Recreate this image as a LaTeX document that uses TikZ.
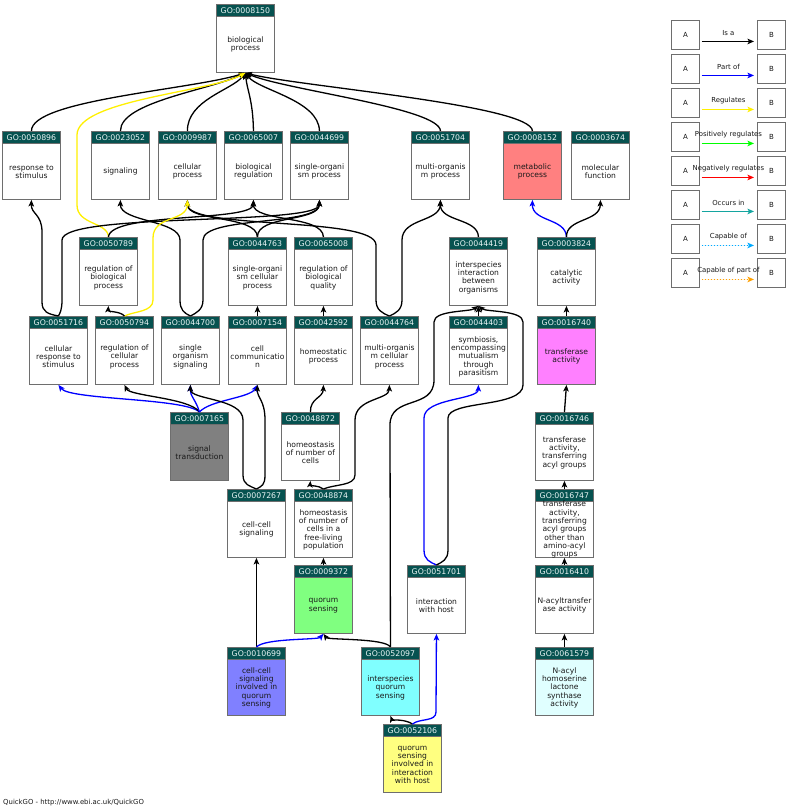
\documentclass[tikz,border=0pt]{standalone}
\usepackage{fontspec}
\setmainfont{DejaVu Sans}
\usetikzlibrary{arrows.meta,calc}
\definecolor{hdr}{RGB}{6,82,80}
\definecolor{hdrtxt}{RGB}{232,244,244}
\definecolor{bordc}{RGB}{110,110,110}
\definecolor{txtc}{RGB}{25,25,25}
\definecolor{cmeta}{RGB}{255,128,128}
\definecolor{ctrans}{RGB}{255,128,255}
\definecolor{csig}{RGB}{128,128,128}
\definecolor{cqs}{RGB}{128,255,128}
\definecolor{ccell}{RGB}{128,128,255}
\definecolor{cinter}{RGB}{128,255,255}
\definecolor{cqih}{RGB}{255,255,128}
\definecolor{cnacyl}{RGB}{224,255,255}
\definecolor{relblue}{RGB}{0,0,255}
\definecolor{relyellow}{RGB}{255,240,0}
\definecolor{relgreen}{RGB}{0,255,0}
\definecolor{relred}{RGB}{255,0,0}
\definecolor{relteal}{RGB}{20,165,160}
\definecolor{relcap}{RGB}{0,170,255}
\definecolor{relcapp}{RGB}{255,160,0}
\tikzset{
  gobox/.style={draw=bordc, line width=0.9pt, minimum width=58pt, minimum height=68pt, inner sep=0pt, anchor=north west},
  gohdr/.style={draw=bordc, line width=0.9pt, fill=hdr, text=hdrtxt, minimum width=58pt, minimum height=11.5pt, inner sep=0pt, anchor=north, font=\fontsize{7.8}{9}\selectfont},
  golbl/.style={align=center, inner sep=0pt, text=txtc, font=\fontsize{7.6}{8.3}\selectfont},
  rel/.style={line width=1.3pt, -{Stealth[length=6.5pt,width=5.5pt,inset=1.5pt]}},
  isa/.style={rel, draw=black},
  partof/.style={rel, draw=relblue},
  regul/.style={rel, draw=relyellow},
  legbox/.style={draw=bordc, line width=0.9pt, fill=white, minimum width=28pt, minimum height=29pt, inner sep=0pt, anchor=north west, font=\fontsize{7}{8}\selectfont, text=txtc},
  leglbl/.style={inner sep=0pt, font=\fontsize{6.9}{8}\selectfont, text=txtc},
  legarr/.style={line width=1.5pt, shorten <=2pt, shorten >=3pt, -{Stealth[length=6.5pt,width=5.5pt,inset=1.5pt]}},
}
\newcommand{\goterm}[5]{%
  \node[gobox, fill=#4] (n#1) at (#2,#3) {};
  \node[gohdr] (h#1) at (n#1.north) {GO:#1};
  \node[golbl] (t#1) at ($(h#1.south)!0.5!(n#1.south)$) {#5};
}
\begin{document}
\begin{tikzpicture}[x=1pt,y=-1pt]
\useasboundingbox (0,0) rectangle (787,807);
\fill[white] (0,0) rectangle (787,807);
% ---------- terms ----------
\goterm{0008150}{216}{4}{white}{biological\\process}
\goterm{0050896}{2}{131}{white}{response to\\stimulus}
\goterm{0023052}{91}{131}{white}{signaling}
\goterm{0009987}{158}{131}{white}{cellular\\process}
\goterm{0065007}{224}{131}{white}{biological\\regulation}
\goterm{0044699}{290}{131}{white}{single-organi\\sm process}
\goterm{0051704}{411}{131}{white}{multi-organis\\m process}
\goterm{0008152}{503}{131}{cmeta}{metabolic\\process}
\goterm{0003674}{571}{131}{white}{molecular\\function}
\goterm{0050789}{79}{237}{white}{regulation of\\biological\\process}
\goterm{0044763}{228}{237}{white}{single-organi\\sm cellular\\process}
\goterm{0065008}{294}{237}{white}{regulation of\\biological\\quality}
\goterm{0044419}{449}{237}{white}{interspecies\\interaction\\between\\organisms}
\goterm{0003824}{537}{237}{white}{catalytic\\activity}
\goterm{0051716}{29}{316}{white}{cellular\\response to\\stimulus}
\goterm{0050794}{95}{316}{white}{regulation of\\cellular\\process}
\goterm{0044700}{161}{316}{white}{single\\organism\\signaling}
\goterm{0007154}{228}{316}{white}{cell\\communicatio\\n}
\goterm{0042592}{294}{316}{white}{homeostatic\\process}
\goterm{0044764}{360}{316}{white}{multi-organis\\m cellular\\process}
\goterm{0044403}{449}{316}{white}{symbiosis,\\encompassing\\mutualism\\through\\parasitism}
\goterm{0016740}{537}{316}{ctrans}{transferase\\activity}
\goterm{0007165}{170}{412}{csig}{signal\\transduction}
\goterm{0048872}{281}{412}{white}{homeostasis\\of number of\\cells}
\goterm{0016746}{535}{412}{white}{transferase\\activity,\\transferring\\acyl groups}
\goterm{0007267}{227}{489}{white}{cell-cell\\signaling}
\goterm{0048874}{294}{489}{white}{homeostasis\\of number of\\cells in a\\free-living\\population}
\goterm{0016747}{535}{489}{white}{transferase\\activity,\\transferring\\acyl groups\\other than\\amino-acyl\\groups}
\goterm{0009372}{294}{565}{cqs}{quorum\\sensing}
\goterm{0051701}{407}{565}{white}{interaction\\with host}
\goterm{0016410}{535}{565}{white}{N-acyltransfer\\ase activity}
\goterm{0010699}{227}{647}{ccell}{cell-cell\\signaling\\involved in\\quorum\\sensing}
\goterm{0052097}{361}{647}{cinter}{interspecies\\quorum\\sensing}
\goterm{0061579}{535}{647}{cnacyl}{N-acyl\\homoserine\\lactone\\synthase\\activity}
\goterm{0052106}{383}{724}{cqih}{quorum\\sensing\\involved in\\interaction\\with host}
% ---------- edges to root ----------
\draw[isa] (n0050896.north) .. controls (31,100) and (190,90) .. (n0008150.south);
\draw[isa] (n0023052.north) .. controls (120,102) and (210,90) .. (n0008150.south);
\draw[isa] (n0009987.north) .. controls (187,100) and (232,90) .. (n0008150.south);
\draw[isa] (n0065007.north) .. controls (253,100) and (247,90) .. (n0008150.south);
\draw[isa] (n0044699.north) .. controls (319,100) and (258,90) .. (n0008150.south);
\draw[isa] (n0051704.north) .. controls (440,108) and (285,90) .. (n0008150.south);
\draw[isa] (n0008152.north) .. controls (532,105) and (295,86) .. (n0008150.south);
\draw[regul] (n0050789.north) .. controls (108,222) and (77,225) .. (77,205) -- (77,135) .. controls (77,100) and (210,92) .. (n0008150.south);
% ---------- edges into row 1 ----------
\draw[isa] (n0050789.north) .. controls (110,212) and (253,222) .. (n0065007.south);
\draw[isa] (n0051716.north) .. controls (48,314) and (42,312) .. (42,302) -- (42,232) .. controls (42,214) and (31,214) .. (n0050896.south);
\draw[isa] (n0051716.north) .. controls (60,313) and (62,310) .. (62,300) -- (62,240) .. controls (62,212) and (319,226) .. (n0044699.south);
\draw[isa] (n0044700.north) .. controls (184,313) and (180,310) .. (180,300) -- (180,240) .. controls (180,220) and (120,222) .. (n0023052.south);
\draw[isa] (n0044700.north) .. controls (196,313) and (203,310) .. (203,300) -- (203,240) .. controls (203,216) and (319,226) .. (n0044699.south);
\draw[isa] (n0044763.north) .. controls (257,215) and (187,222) .. (n0009987.south);
\draw[isa] (n0044763.north) .. controls (257,215) and (319,222) .. (n0044699.south);
\draw[isa] (n0065008.north) .. controls (323,215) and (253,222) .. (n0065007.south);
\draw[isa] (n0044764.north) .. controls (382,313) and (376,310) .. (376,300) -- (376,245) .. controls (376,216) and (187,230) .. (n0009987.south);
\draw[isa] (n0044764.north) .. controls (396,313) and (402,310) .. (402,300) -- (402,240) .. controls (402,218) and (440,222) .. (n0051704.south);
\draw[isa] (n0044419.north) .. controls (478,218) and (440,222) .. (n0051704.south);
\draw[partof] (n0003824.north) .. controls (566,218) and (532,222) .. (n0008152.south);
\draw[isa] (n0003824.north) .. controls (566,218) and (600,222) .. (n0003674.south);
\draw[regul] (n0050794.north) .. controls (135,311) and (153,312) .. (153,300) -- (153,238) .. controls (153,215) and (187,222) .. (n0009987.south);
\draw[isa] (n0050794.north) .. controls (120,311) and (108,312) .. (n0050789.south);
\draw[isa] (n0007154.north) -- (n0044763.south);
\draw[isa] (n0042592.north) -- (n0065008.south);
\draw[isa] (n0044403.north) -- (n0044419.south);
\draw[isa] (n0016740.north) -- (n0003824.south);
% ---------- edges into row 3 ----------
\draw[partof] (n0007165.north) .. controls (185,398) and (70,400) .. (n0051716.south);
\draw[isa] (n0007165.north) .. controls (190,398) and (130,396) .. (n0050794.south);
\draw[partof] (n0007165.north) .. controls (196,400) and (190,396) .. (n0044700.south);
\draw[partof] (n0007165.north) .. controls (210,400) and (250,398) .. (n0007154.south);
\draw[isa] (n0007267.north) .. controls (250,486) and (243,485) .. (243,475) -- (243,420) .. controls (243,398) and (190,400) .. (n0044700.south);
\draw[isa] (n0007267.north) .. controls (262,486) and (265,485) .. (265,475) -- (265,420) .. controls (265,400) and (257,398) .. (n0007154.south);
\draw[isa] (n0048872.north) .. controls (310,398) and (323,398) .. (n0042592.south);
\draw[isa] (n0048874.north) .. controls (318,485) and (310,486) .. (n0048872.south);
\draw[isa] (n0048874.north) .. controls (335,484) and (355,486) .. (355,475) -- (355,420) .. controls (355,398) and (389,400) .. (n0044764.south);
\draw[isa] (n0052097.north) -- (390,425) .. controls (390,395) and (434,410) .. (434,380) -- (434,322) .. controls (434,310) and (470,312) .. (n0044419.south);
\draw[partof] (n0051701.north) .. controls (430,562) and (424,560) .. (424,550) -- (424,418) .. controls (424,398) and (478,400) .. (n0044403.south);
\draw[isa] (n0051701.north) .. controls (442,562) and (448,560) .. (448,550) -- (448,418) .. controls (448,400) and (523,408) .. (523,385) -- (523,322) .. controls (523,310) and (486,312) .. (n0044419.south);
% ---------- lower chain ----------
\draw[isa] (n0016746.north) -- (n0016740.south);
\draw[isa] (n0016747.north) -- (n0016746.south);
\draw[isa] (n0016410.north) -- (n0016747.south);
\draw[isa] (n0061579.north) -- (n0016410.south);
\draw[isa] (n0009372.north) -- (n0048874.south);
\draw[isa] (n0010699.north) -- (n0007267.south);
\draw[partof] (n0010699.north) .. controls (265,638) and (318,640) .. (n0009372.south);
\draw[isa] (n0052097.north) .. controls (385,638) and (328,640) .. (n0009372.south);
\draw[isa] (n0052106.north) .. controls (405,719) and (392,720) .. (n0052097.south);
\draw[partof] (n0052106.north) .. controls (420,718) and (436,722) .. (436,712) -- (n0051701.south);
% ---------- legend ----------
\node[legbox] (la0) at (671,20) {A};  \node[legbox] (lb0) at (757,20) {B};
\node[legbox] (la1) at (671,54) {A};  \node[legbox] (lb1) at (757,54) {B};
\node[legbox] (la2) at (671,88) {A};  \node[legbox] (lb2) at (757,88) {B};
\node[legbox] (la3) at (671,122) {A}; \node[legbox] (lb3) at (757,122) {B};
\node[legbox] (la4) at (671,156) {A}; \node[legbox] (lb4) at (757,156) {B};
\node[legbox] (la5) at (671,190) {A}; \node[legbox] (lb5) at (757,190) {B};
\node[legbox] (la6) at (671,224) {A}; \node[legbox] (lb6) at (757,224) {B};
\node[legbox] (la7) at (671,258) {A}; \node[legbox] (lb7) at (757,258) {B};
\draw[legarr, draw=black, fill=black] ([yshift=-6.5pt]la0.east) -- ([yshift=-6.5pt]lb0.west);
\draw[legarr, draw=relblue, fill=relblue] ([yshift=-6.5pt]la1.east) -- ([yshift=-6.5pt]lb1.west);
\draw[legarr, draw=relyellow, fill=relyellow] ([yshift=-6.5pt]la2.east) -- ([yshift=-6.5pt]lb2.west);
\draw[legarr, draw=relgreen, fill=relgreen] ([yshift=-6.5pt]la3.east) -- ([yshift=-6.5pt]lb3.west);
\draw[legarr, draw=relred, fill=relred] ([yshift=-6.5pt]la4.east) -- ([yshift=-6.5pt]lb4.west);
\draw[legarr, draw=relteal, fill=relteal] ([yshift=-6.5pt]la5.east) -- ([yshift=-6.5pt]lb5.west);
\draw[legarr, draw=relcap, fill=relcap, dash pattern=on 1.5pt off 1.5pt] ([yshift=-6.5pt]la6.east) -- ([yshift=-6.5pt]lb6.west);
\draw[legarr, draw=relcapp, fill=relcapp, dash pattern=on 1.5pt off 1.5pt] ([yshift=-6.5pt]la7.east) -- ([yshift=-6.5pt]lb7.west);
\node[leglbl] (ll0) at ($(la0.east)!0.5!(lb0.west)+(0,-2)$) {Is a};
\node[leglbl] (ll1) at ($(la1.east)!0.5!(lb1.west)+(0,-2)$) {Part of};
\node[leglbl] (ll2) at ($(la2.east)!0.5!(lb2.west)+(0,-2)$) {Regulates};
\node[leglbl] (ll3) at ($(la3.east)!0.5!(lb3.west)+(0,-2)$) {Positively regulates};
\node[leglbl] (ll4) at ($(la4.east)!0.5!(lb4.west)+(0,-2)$) {Negatively regulates};
\node[leglbl] (ll5) at ($(la5.east)!0.5!(lb5.west)+(0,-2)$) {Occurs in};
\node[leglbl] (ll6) at ($(la6.east)!0.5!(lb6.west)+(0,-2)$) {Capable of};
\node[leglbl] (ll7) at ($(la7.east)!0.5!(lb7.west)+(0,-2)$) {Capable of part of};
% ---------- footer ----------
\node[anchor=base west, inner sep=0pt, font=\fontsize{6.9}{8}\selectfont, text=txtc] (foot) at (3,804) {QuickGO - http://www.ebi.ac.uk/QuickGO};
\end{tikzpicture}
\end{document}
